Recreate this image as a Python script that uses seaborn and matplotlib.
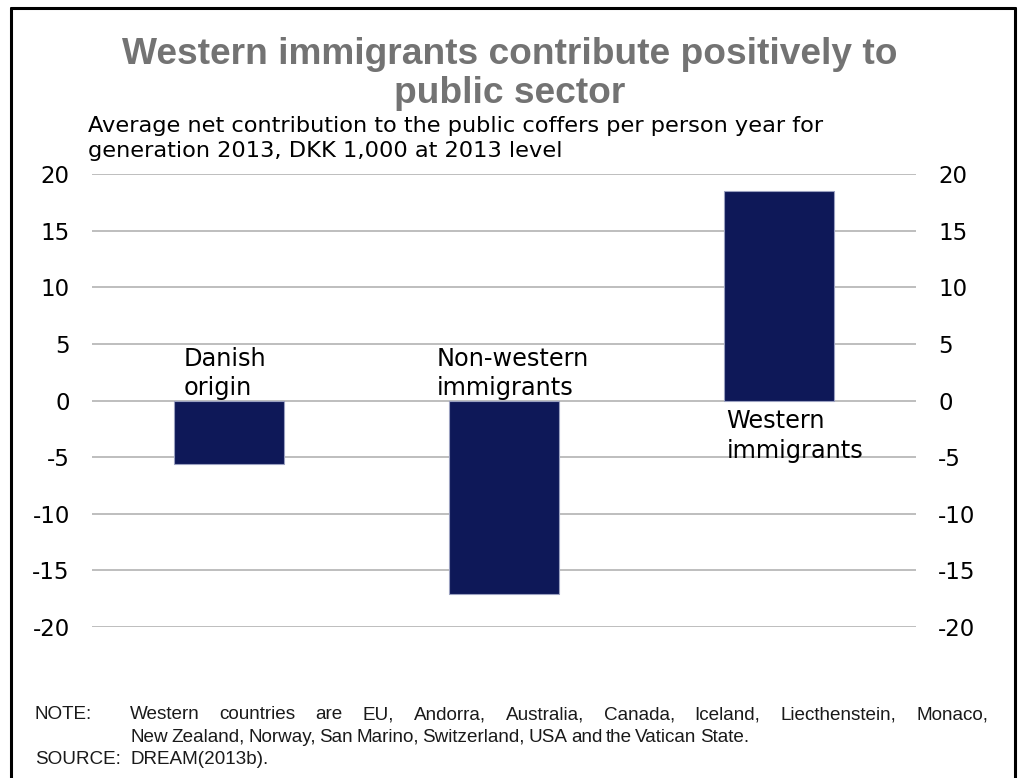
import matplotlib
matplotlib.use("Agg")
import matplotlib.pyplot as plt
from matplotlib.lines import Line2D
from matplotlib import font_manager
import seaborn as sns
import pandas as pd

categories = ["Danish\norigin", "Non-western\nimmigrants", "Western\nimmigrants"]
values = [-5.6, -17.1, 18.5]
yticks = [20, 15, 10, 5, 0, -5, -10, -15, -20]

title = "Western immigrants contribute positively to\npublic sector"
subtitle = ("Average net contribution to the public coffers per person year for\n"
            "generation 2013, DKK 1,000 at 2013 level")
note_lines = [
    ("NOTE:", "Western countries are EU, Andorra, Australia, Canada, Iceland, Liecthenstein, Monaco,", True),
    ("", "New Zealand, Norway, San Marino, Switzerland, USA and the Vatican State.", False),
    ("SOURCE:", "DREAM(2013b).", False),
]

sns.set_theme(style="white")
plt.rcParams["font.family"] = ["DejaVu Sans"]

installed = {f.name for f in font_manager.fontManager.ttflist}
narrow = "Liberation Sans Narrow" if "Liberation Sans Narrow" in installed else "Liberation Sans"

W, H = 1019, 778
fig = plt.figure(figsize=(W / 100, H / 100), dpi=100)
ax = fig.add_axes([92 / W, 1 - 627 / H, (916 - 92) / W, (627 - 174) / H])

df = pd.DataFrame({"group": categories, "value": values})
sns.barplot(data=df, x="group", y="value", color="#0E1858", width=0.4,
            edgecolor="#9aa0c0", linewidth=0.8, saturation=1, ax=ax)

ax.set_xlim(-0.5, 2.5)
ax.set_ylim(-20, 20)
ax.set_yticks(yticks)
ax.set_yticklabels([str(t) for t in yticks])
ax.set_xticks([])
ax.set_xlabel("")
ax.set_ylabel("")
for s in ax.spines.values():
    s.set_visible(False)
ax.yaxis.grid(True, color="#b3b3b3", linewidth=1.2)
ax.set_axisbelow(True)
ax.tick_params(axis="y", left=False, right=False, labelleft=True, labelright=True,
               length=0, labelsize=16.5, pad=16, colors="black")

# category labels sit beside the zero line, opposite to the bar
offsets = [-0.165, -0.245, -0.19]
for i, (lab, v) in enumerate(zip(categories, values)):
    if v < 0:
        ax.annotate(lab, xy=(i + offsets[i], 0), xytext=(0, 0), textcoords="offset points",
                    ha="left", va="bottom", fontsize=17.3, linespacing=1.3, color="black")
    else:
        ax.annotate(lab, xy=(i + offsets[i], 0), xytext=(0, -6), textcoords="offset points",
                    ha="left", va="top", fontsize=17.3, linespacing=1.3, color="black")

fig.text(510 / W, 1 - 37 / H, title, ha="center", va="top", fontsize=26.7,
         fontweight="bold", color="#737373", family="Liberation Sans", linespacing=1.15)
fig.text(88 / W, 1 - 116 / H, subtitle, ha="left", va="top", fontsize=16.2,
         color="black", linespacing=1.3)

# notes under the chart: words set one by one with tight spacing,
# the first line spread to the full width
renderer = fig.canvas.get_renderer()
x0, x1 = 130, 988
note_size = 13.6
tight_gap = 3.5
baselines = [719, 742, 764]
for (lab, txt, justify), y in zip(note_lines, baselines):
    yy = 1 - y / H
    if lab:
        fig.text(35 / W, yy, lab, ha="left", va="baseline", fontsize=note_size, family=narrow,
                 color="#1a1a1a")
    words = txt.split()
    objs = [fig.text(0, yy, w, ha="left", va="baseline", fontsize=note_size, family=narrow,
                     color="#1a1a1a") for w in words]
    widths = [o.get_window_extent(renderer).width for o in objs]
    if justify and len(words) > 1:
        gap = (x1 - x0 - sum(widths)) / (len(words) - 1)
    else:
        gap = tight_gap
    x = x0
    for o, wd in zip(objs, widths):
        o.set_x(x / W)
        x += wd + gap

# frame around the figure
frame = dict(color="black", linewidth=2.2, transform=fig.transFigure)
fig.add_artist(Line2D([11 / W, 11 / W], [0, 1 - 8 / H], **frame))
fig.add_artist(Line2D([11 / W, 1015 / W], [1 - 8 / H, 1 - 8 / H], **frame))
fig.add_artist(Line2D([1015 / W, 1015 / W], [0, 1 - 8 / H], **frame))

fig.savefig("out.png", dpi=100, facecolor="white")
